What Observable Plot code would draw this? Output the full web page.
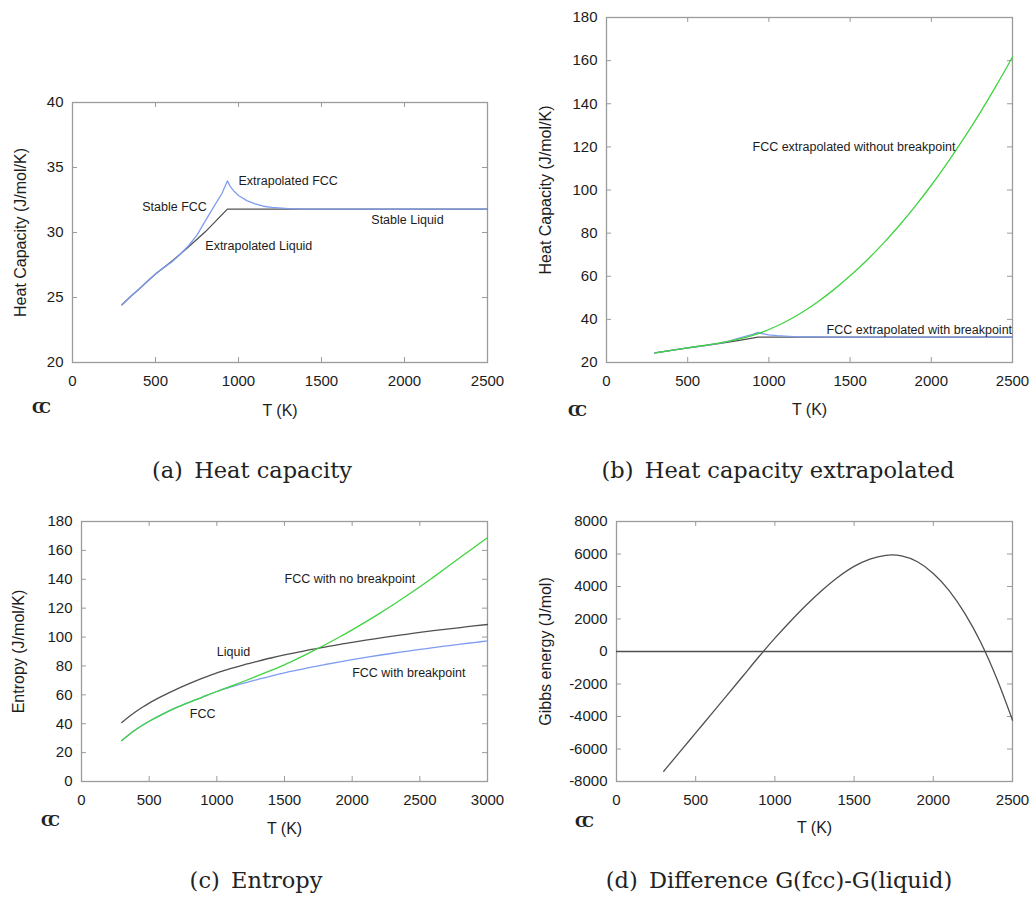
<!DOCTYPE html>
<html>
<head>
<meta charset="utf-8">
<script src="https://cdn.jsdelivr.net/npm/d3@7"></script>
<script src="https://cdn.jsdelivr.net/npm/@observablehq/plot@0.6"></script>
<style>
  html, body { margin: 0; padding: 0; background: #fff; }
  #page { position: relative; width: 1034px; height: 904px; overflow: hidden; background: #fff; }
  .panel { position: absolute; }
  .caption { position: absolute; width: 500px; text-align: center; font-family: "DejaVu Serif", "Liberation Serif", serif; font-size: 22.5px; line-height: 23px; color: #222; white-space: pre; }
  .cc { position: absolute; font-family: "DejaVu Serif", serif; font-weight: bold; font-size: 15px; line-height: 15px; letter-spacing: -5px; color: #222; }
</style>
</head>
<body>
<div id="page"></div>
<script>
// ---------- DATA ----------
// Heat capacity (J/mol/K) – liquid (extrapolated below 933 K, stable above)
const liqCpT  = [298, 350, 400, 450, 500, 600, 700, 800, 933, 1500, 2000, 2500];
const liqCp   = [24.44, 25.08, 25.64, 26.23, 26.8, 27.8, 28.9, 30.05, 31.8, 31.8, 31.8, 31.8];
// FCC with breakpoint (stable below 933 K, extrapolated above)
const fccBpCpT = [298, 350, 400, 450, 500, 550, 600, 650, 700, 750, 800, 850, 900, 933, 950, 975, 1000, 1050, 1100, 1150, 1200, 1300, 1400, 1600, 2000, 2500];
const fccBpCp  = [24.44, 25.08, 25.64, 26.23, 26.8, 27.3, 27.75, 28.35, 29.0, 29.8, 30.9, 31.95, 33.0, 33.97, 33.55, 33.15, 32.85, 32.45, 32.2, 32.02, 31.93, 31.84, 31.8, 31.8, 31.8, 31.8];
// FCC extrapolated without breakpoint
const fccNoBpCpT = [298, 400, 500, 600, 700, 800, 900, 1000, 1100, 1200, 1300, 1400, 1500, 1600, 1700, 1800, 1900, 2000, 2100, 2200, 2300, 2400, 2500];
const fccNoBpCp  = [24.44, 25.64, 26.8, 27.9, 29.1, 30.6, 32.6, 35.3, 38.8, 43.1, 48.1, 53.8, 60.2, 67.2, 74.9, 83.3, 92.4, 102.2, 112.7, 123.9, 135.8, 148.4, 161.7];

// Entropy (J/mol/K)
const sT = [298, 350, 400, 450, 500, 600, 700, 800, 900, 1000, 1100, 1200, 1300, 1400, 1500, 1600, 1700, 1800, 1900, 2000, 2100, 2200, 2300, 2400, 2500, 2600, 2700, 2800, 2900, 3000];
const sLiquid  = [40.8, 44.8, 48.3, 51.4, 54.3, 59.3, 63.8, 67.9, 71.7, 75.2, 78.1, 80.8, 83.2, 85.5, 87.6, 89.5, 91.4, 93.1, 94.8, 96.3, 97.8, 99.2, 100.6, 101.9, 103.2, 104.4, 105.5, 106.6, 107.7, 108.7];
const sFccBp   = [28.4, 32.4, 35.8, 38.9, 41.7, 46.7, 51.1, 55.0, 58.7, 62.3, 65.3, 68.1, 70.6, 73.0, 75.2, 77.2, 79.2, 81.0, 82.7, 84.3, 85.9, 87.4, 88.8, 90.1, 91.4, 92.7, 93.9, 95.1, 96.2, 97.3];
const sFccNoBp = [28.4, 32.4, 35.8, 38.9, 41.7, 46.7, 51.1, 55.0, 58.7, 62.3, 65.8, 69.4, 73.1, 76.9, 80.8, 85.2, 89.9, 94.7, 99.7, 105.0, 110.5, 116.2, 122.2, 128.4, 134.8, 141.5, 148.3, 155.2, 162.0, 168.8];

// Gibbs energy difference G(fcc)-G(liquid) (J/mol)
const gT  = [298, 400, 500, 600, 700, 800, 900, 1000, 1100, 1200, 1300, 1400, 1500, 1600, 1700, 1740, 1800, 1900, 2000, 2100, 2200, 2300, 2400, 2500];
const gDiff = [-7370, -6180, -5010, -3840, -2670, -1490, -310, 820, 1880, 2880, 3790, 4590, 5240, 5690, 5920, 5950, 5890, 5520, 4800, 3750, 2330, 550, -1650, -4230];

// Ticks
const xTicks2500 = [0, 500, 1000, 1500, 2000, 2500];
const xTicks3000 = [0, 500, 1000, 1500, 2000, 2500, 3000];
const yTicksA = [20, 25, 30, 35, 40];
const yTicksB = [20, 40, 60, 80, 100, 120, 140, 160, 180];
const yTicksC = [0, 20, 40, 60, 80, 100, 120, 140, 160, 180];
const yTicksD = [-8000, -6000, -4000, -2000, 0, 2000, 4000, 6000, 8000];

// Annotations
const aLabels = ["Stable FCC", "Extrapolated FCC", "Extrapolated Liquid", "Stable Liquid"];
const aLabelT = [420, 1000, 800, 1800];
const aLabelV = [32.0, 34.0, 29.0, 31.0];
const bLabels = ["FCC extrapolated without breakpoint", "FCC extrapolated with breakpoint"];
const bLabelT = [899, 1355];
const bLabelV = [120, 35.3];
const cLabels = ["FCC with no breakpoint", "Liquid", "FCC with breakpoint", "FCC"];
const cLabelT = [1500, 1000, 2000, 800];
const cLabelV = [140, 90, 75, 47];

const captions = ["(a)\u2002Heat capacity", "(b)\u2002Heat capacity extrapolated", "(c)\u2002Entropy", "(d)\u2002Difference G(fcc)-G(liquid)"];

// ---------- STYLE ----------
const BLUE = "#7f9df0", GREEN = "#3fd43f", DARK = "#505050", FRAME = "#9b9b9b", TEXT = "#1c1c1c";

function series(ts, vs) { return ts.map((t, i) => ({t, v: vs[i]})); }
function labelRows(txt, ts, vs) { return txt.map((s, i) => ({s, t: ts[i], v: vs[i]})); }

function panel(cfg) {
  const fw = cfg.width - cfg.ml - cfg.mr, fh = cfg.height - cfg.mt - cfg.mb;
  const fmt = d => String(d);
  return Plot.plot({
    width: cfg.width, height: cfg.height,
    marginLeft: cfg.ml, marginTop: cfg.mt, marginRight: cfg.mr, marginBottom: cfg.mb,
    style: {fontFamily: "'Liberation Sans', Arial, sans-serif", fontSize: "15px", color: TEXT, background: "transparent", overflow: "visible"},
    x: {domain: cfg.xDomain},
    y: {domain: cfg.yDomain},
    marks: [
      Plot.tickX(cfg.xTicks, {x: d => d, insetTop: fh - 5, stroke: FRAME, strokeWidth: 1}),
      Plot.tickX(cfg.xTicks, {x: d => d, insetBottom: fh - 5, stroke: FRAME, strokeWidth: 1}),
      Plot.tickY(cfg.yTicks, {y: d => d, insetRight: fw - 5, stroke: FRAME, strokeWidth: 1}),
      Plot.tickY(cfg.yTicks, {y: d => d, insetLeft: fw - 5, stroke: FRAME, strokeWidth: 1}),
      Plot.frame({stroke: FRAME, strokeWidth: 1.3}),
      Plot.axisX({ticks: cfg.xTicks, tickSize: 0, tickPadding: 13, tickFormat: fmt, label: null, fontSize: 15}),
      Plot.axisY({ticks: cfg.yTicks, tickSize: 0, tickPadding: 9, tickFormat: fmt, label: null, fontSize: 15}),
      ...cfg.marks,
      Plot.text(cfg.labels || [], {x: "t", y: "v", text: "s", textAnchor: "start", fontSize: 12.5, fill: TEXT}),
      Plot.text([cfg.yLabel], {text: d => d, frameAnchor: "left", textAnchor: "middle", lineAnchor: "middle", dx: cfg.yDx, rotate: -90, fontSize: 16, fill: TEXT}),
      Plot.text(["T (K)"], {text: d => d, frameAnchor: "bottom", textAnchor: "middle", lineAnchor: "middle", dy: cfg.xDy, fontSize: 16, fill: TEXT})
    ]
  });
}

const page = document.getElementById("page");
function place(node, left, top, w) {
  const div = document.createElement("div");
  div.className = "panel";
  div.style.left = left + "px"; div.style.top = top + "px"; div.style.width = w + "px";
  div.appendChild(node);
  page.appendChild(div);
}

const lineOpts = {x: "t", y: "v", strokeWidth: 1.3};

// (a) Heat capacity
place(panel({
  width: 510, height: 345, ml: 72, mt: 22, mr: 23, mb: 63,
  xDomain: [0, 2500], yDomain: [20, 40], xTicks: xTicks2500, yTicks: yTicksA,
  yLabel: "Heat Capacity (J/mol/K)", yDx: -52, xDy: 48,
  labels: labelRows(aLabels, aLabelT, aLabelV),
  marks: [
    Plot.line(series(liqCpT, liqCp), {...lineOpts, stroke: DARK}),
    Plot.line(series(fccBpCpT, fccBpCp), {...lineOpts, stroke: BLUE})
  ]
}), 0, 80, 510);

// (b) Heat capacity extrapolated
place(panel({
  width: 514, height: 425, ml: 86, mt: 17, mr: 22, mb: 63,
  xDomain: [0, 2500], yDomain: [20, 180], xTicks: xTicks2500, yTicks: yTicksB,
  yLabel: "Heat Capacity (J/mol/K)", yDx: -61, xDy: 47,
  labels: labelRows(bLabels, bLabelT, bLabelV),
  marks: [
    Plot.line(series(liqCpT, liqCp), {...lineOpts, stroke: DARK}),
    Plot.line(series(fccBpCpT, fccBpCp), {...lineOpts, stroke: BLUE}),
    Plot.line(series(fccNoBpCpT, fccNoBpCp), {...lineOpts, stroke: GREEN, curve: "monotone-x"})
  ]
}), 520, 0, 514);

// (c) Entropy
place(panel({
  width: 510, height: 335, ml: 81, mt: 16, mr: 23, mb: 59,
  xDomain: [0, 3000], yDomain: [0, 180], xTicks: xTicks3000, yTicks: yTicksC,
  yLabel: "Entropy (J/mol/K)", yDx: -63, xDy: 47,
  labels: labelRows(cLabels, cLabelT, cLabelV),
  marks: [
    Plot.line(series(sT, sLiquid), {...lineOpts, stroke: DARK, curve: "monotone-x"}),
    Plot.line(series(sT, sFccBp), {...lineOpts, stroke: BLUE, curve: "monotone-x"}),
    Plot.line(series(sT, sFccNoBp), {...lineOpts, stroke: GREEN, curve: "monotone-x"})
  ]
}), 0, 505, 510);

// (d) Gibbs energy difference
place(panel({
  width: 514, height: 335, ml: 96, mt: 16, mr: 22, mb: 59,
  xDomain: [0, 2500], yDomain: [-8000, 8000], xTicks: xTicks2500, yTicks: yTicksD,
  yLabel: "Gibbs energy (J/mol)", yDx: -71, xDy: 46,
  marks: [
    Plot.ruleY([0], {stroke: DARK, strokeWidth: 1.4}),
    Plot.line(series(gT, gDiff), {...lineOpts, stroke: DARK, curve: "monotone-x"})
  ]
}), 520, 505, 514);

// Captions and small logos
const capCenters = [[252, 458.5], [778, 458.5], [256, 868.5], [779, 868.5]];
captions.forEach((c, i) => {
  const d = document.createElement("div");
  d.className = "caption";
  d.textContent = c;
  d.style.left = (capCenters[i][0] - 250) + "px";
  d.style.top = capCenters[i][1] + "px";
  page.appendChild(d);
});
const ccPos = [[32, 401], [568, 404], [41, 814], [575, 815]];
ccPos.forEach(([x, y]) => {
  const d = document.createElement("div");
  d.className = "cc";
  d.textContent = "CC";
  d.style.left = x + "px"; d.style.top = y + "px";
  page.appendChild(d);
});
</script>
</body>
</html>
